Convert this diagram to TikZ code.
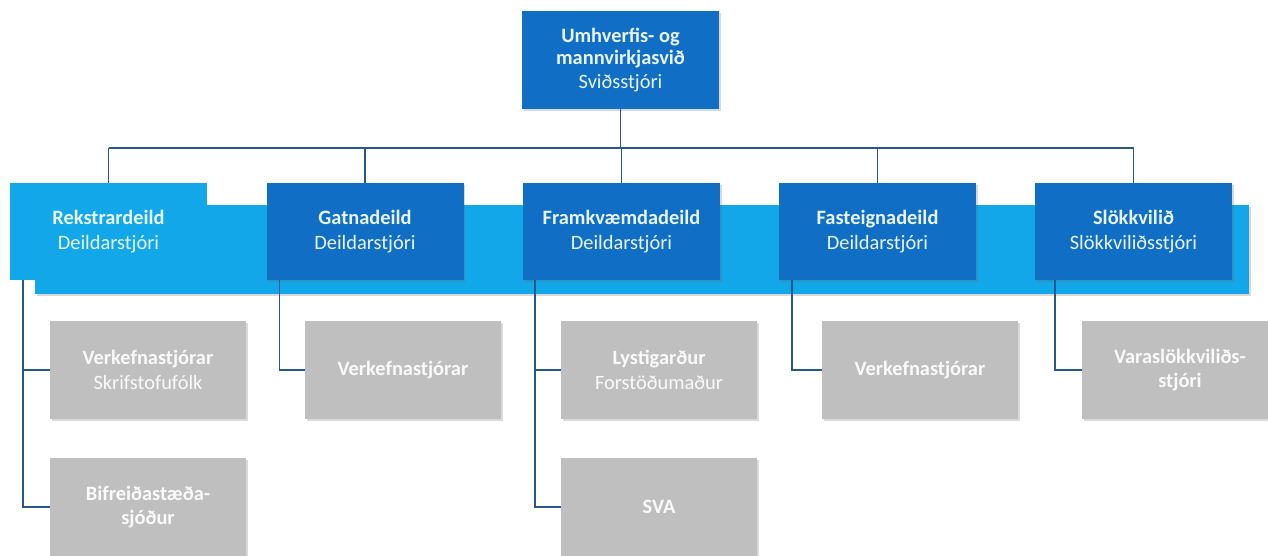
\documentclass[tikz,border=0pt]{standalone}
\usepackage{fontspec}
\setmainfont{Carlito}
\usetikzlibrary{calc,shadows}
\definecolor{dblue}{RGB}{16,110,196}
\definecolor{lblue}{RGB}{18,167,232}
\definecolor{gbox}{RGB}{191,191,191}
\definecolor{conncol}{RGB}{38,88,138}
\definecolor{ltext}{RGB}{232,244,255}
\tikzset{
  shad/.style={drop shadow={shadow xshift=1.5pt,shadow yshift=-2pt,opacity=0.25,fill=black!60}},
  boxbase/.style={rectangle,inner sep=0pt,align=center,font=\fontsize{20.4}{24.5}\selectfont},
  topbox/.style={boxbase,fill=dblue,text=ltext,minimum width=197pt,minimum height=98pt,shad},
  deptbox/.style={boxbase,fill=dblue,text=ltext,minimum width=197pt,minimum height=97pt,shad},
  lightbox/.style={boxbase,fill=lblue,text=ltext,minimum width=197pt,minimum height=97pt},
  subbox/.style={boxbase,fill=gbox,text=white!96!gray,minimum width=196pt,minimum height=98pt,shad},
  conn/.style={draw=conncol,line width=1.4pt}
}
\begin{document}
\begin{tikzpicture}[x=1pt,y=-1pt]
\useasboundingbox (0,0) rectangle (1268,556);
% band
\fill[lblue,shad] (35,205) rectangle (1249,294);
% top
\node[topbox] (top) at (620.5,60) {\textbf{Umhverfis- og}\\[-2pt]\textbf{mannvirkjasvið}\\[-1pt]Sviðsstjóri};
% departments
\node[lightbox] (b1) at (108.5,231.5) {\textbf{Rekstrardeild}\\Deildarstjóri};
\node[deptbox] (b2) at (365,231.5) {\textbf{Gatnadeild}\\Deildarstjóri};
\node[deptbox] (b3) at (621.5,231.5) {\textbf{Framkvæmdadeild}\\Deildarstjóri};
\node[deptbox] (b4) at (877.5,231.5) {\textbf{Fasteignadeild}\\Deildarstjóri};
\node[deptbox] (b5) at (1133.5,231.5) {\textbf{Slökkvilið}\\Slökkviliðsstjóri};
% sub units
\node[subbox] (c11) at (148,370) {\textbf{Verkefnastjórar}\\Skrifstofufólk};
\node[subbox] (c12) at (148,507) {\textbf{Bifreiðastæða-}\\\textbf{sjóður}};
\node[subbox] (c2) at (403,370) {\textbf{Verkefnastjórar}};
\node[subbox] (c31) at (659,370) {\textbf{Lystigarður}\\Forstöðumaður};
\node[subbox] (c32) at (659,507) {\textbf{SVA}};
\node[subbox] (c4) at (920,370) {\textbf{Verkefnastjórar}};
\node[subbox] (c5) at (1180,370) {\textbf{Varaslökkviliðs-}\\\textbf{stjóri}};
% bus
\coordinate (bus) at (620.5,148);
\draw[conn] (top.south) -- (bus);
\draw[conn] (bus -| b1.north) -- (bus -| b5.north);
\foreach \b in {b1,b2,b3,b4,b5} \draw[conn] (bus -| \b.north) -- (\b.north);
% sub connectors
\coordinate (s1) at ($(b1.south west)+(13,0)$);
\coordinate (s2) at ($(b2.south west)+(13,0)$);
\coordinate (s3) at ($(b3.south west)+(12,0)$);
\coordinate (s4) at ($(b4.south west)+(13,0)$);
\coordinate (s5) at ($(b5.south west)+(20,0)$);
\draw[conn] (s1) |- (c12.west);
\draw[conn] (s1) |- (c11.west);
\draw[conn] (s2) |- (c2.west);
\draw[conn] (s3) |- (c32.west);
\draw[conn] (s3) |- (c31.west);
\draw[conn] (s4) |- (c4.west);
\draw[conn] (s5) |- (c5.west);
\end{tikzpicture}
\end{document}
